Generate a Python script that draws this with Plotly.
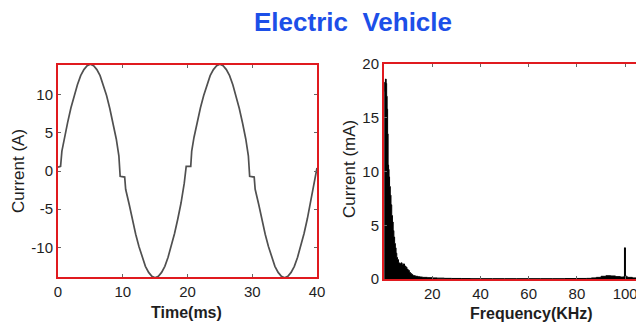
import plotly.graph_objects as go

# ---- Data: time-domain current (A) ----
time_ms = [0, 0.4, 0.6, 1, 1.5, 2, 2.5, 3, 3.5, 4, 4.5, 5, 5.5, 6, 6.5, 7, 7.5, 8, 8.5, 9, 9.4,
           9.6, 10.3, 10.45, 11, 11.5, 12, 12.5, 13, 13.5, 14, 14.5, 15, 15.5, 16, 16.5, 17, 17.5,
           18, 18.5, 19, 19.5, 19.8, 20.5, 20.65, 21, 21.5, 22, 22.5, 23, 23.5, 24, 24.5, 25,
           25.5, 26, 26.5, 27, 27.5, 28, 28.5, 29, 29.4, 29.6, 30.3, 30.45, 31, 31.5, 32, 32.5,
           33, 33.5, 34, 34.5, 35, 35.5, 36, 36.5, 37, 37.5, 38, 38.5, 39, 39.5, 40]
current_a = [0.5, 0.6, 2.6, 4.4, 6.4, 8.3, 9.9, 11.3, 12.5, 13.3, 13.8, 14.0, 13.8, 13.3, 12.5,
             11.3, 9.9, 8.2, 6.3, 4.2, 2.0,
             -0.7, -0.8, -2.4, -4.4, -6.4, -8.3, -9.9, -11.3, -12.5, -13.3, -13.8, -14.0, -13.8,
             -13.3, -12.5, -11.3, -9.9,
             -8.2, -6.3, -4.2, -1.6, 0.6, 0.6, 2.6, 4.4, 6.4, 8.3, 9.9, 11.3, 12.5, 13.3, 13.8, 14.0,
             13.8, 13.3, 12.5, 11.3, 9.9, 8.2, 6.3, 4.2, 2.0, -0.7, -0.8, -2.4, -4.4, -6.4, -8.3, -9.9,
             -11.3, -12.5, -13.3, -13.8, -14.0, -13.8, -13.3, -12.5, -11.3, -9.9, -8.2, -6.3, -4.2,
             -1.9, 0.4]

# ---- Data: spectrum current (mA) ----
freq_khz = [0.1, 0.3, 0.6, 0.9, 1.1, 1.3, 1.5, 1.7, 1.9, 2.1, 2.3, 2.6, 2.9, 3.2, 3.5, 3.8, 4.1,
            4.4, 4.7, 5.0, 5.3, 5.6, 6.0, 6.5, 7.0, 7.5, 8.0, 8.5, 9.0, 9.5, 10, 10.5, 11, 11.5,
            12, 13, 14, 15, 16, 18, 20, 22, 25, 28, 32, 36, 40, 45, 50, 55, 60, 65, 70, 75, 80,
            84, 86, 88, 90, 92, 94, 96, 98, 99.3, 99.7, 100.1, 100.4, 101, 103, 105, 108]
current_ma = [17.5, 18.3, 18.6, 18.2, 17.0, 15.8, 13.5, 10.6, 10.2, 9.5, 8.6, 7.8, 6.9, 5.9, 5.3,
              4.5, 3.9, 3.3, 2.9, 2.4, 2.0, 1.8, 1.5, 1.4, 1.5, 1.3, 1.4, 1.2, 1.1, 0.9, 0.8, 0.6,
              0.5, 0.4, 0.3, 0.25, 0.2, 0.18, 0.15, 0.12, 0.1, 0.08, 0.06, 0.05, 0.04, 0.03, 0.03,
              0.03, 0.03, 0.03, 0.03, 0.03, 0.03, 0.04, 0.05,
              0.06, 0.1, 0.15, 0.25, 0.3, 0.28, 0.22, 0.18, 0.2, 2.9, 0.3, 0.2, 0.15, 0.1, 0.1, 0.1]

time_ticks = [0, 10, 20, 30, 40]
amp_ticks = [-10, -5, 0, 5, 10]
amp_labels = ["-10", "-5", "0", "5", "10"]
freq_ticks = [20, 40, 60, 80, 100]
ma_ticks = [0, 5, 10, 15, 20]

# page body has an 8px margin; figure is sized so it ends at the window edge
OFF = 8
W, H = 644 - OFF, 322 - OFF
RED = "#e01a1f"
FONT = "Liberation Sans, Arial, sans-serif"
TXT = "#1e1e1e"

def px(x):
    return (x - OFF) / W

def py(y):
    return 1 - (y - OFF) / H

fig = go.Figure()
fig.add_trace(go.Scatter(x=time_ms, y=current_a, mode="lines",
                         line=dict(color="#505050", width=1.7),
                         xaxis="x", yaxis="y", showlegend=False))
fig.add_trace(go.Scatter(x=freq_khz, y=current_ma, mode="lines",
                         line=dict(color="#000000", width=1, shape="hv"),
                         fill="tozeroy", fillcolor="#000000",
                         xaxis="x2", yaxis="y2", showlegend=False))

axis_common = dict(showgrid=False, zeroline=False, showline=True, linecolor=RED, linewidth=2,
                   ticks="inside", ticklen=3, tickcolor="#666666", automargin=False,
                   tickfont=dict(family=FONT, size=15, color=TXT))

fig.update_layout(
    width=W, height=H,
    margin=dict(l=0, r=0, t=0, b=0, autoexpand=False),
    paper_bgcolor="white", plot_bgcolor="white",
    xaxis=dict(domain=[px(58), px(317)], range=[0, 40], tickvals=time_ticks,
               mirror="ticks", anchor="y", **axis_common),
    yaxis=dict(domain=[py(277), py(65)], range=[-13.9, 13.9], tickvals=amp_ticks,
               ticktext=amp_labels, mirror="ticks", anchor="x", **axis_common),
    xaxis2=dict(domain=[px(384), 1.0], range=[0, 107.8], tickvals=freq_ticks,
                mirror="ticks", anchor="y2", **axis_common),
    yaxis2=dict(domain=[py(279), py(64)], range=[0, 20], tickvals=ma_ticks,
                mirror=False, anchor="x2", **axis_common),
    annotations=[
        dict(text="<b>Electric  Vehicle</b>", x=px(353), y=py(22), xref="paper", yref="paper",
             showarrow=False, xanchor="center", yanchor="middle",
             font=dict(family=FONT, size=26, color="#1c4fe8")),
        dict(text="Current (A)", x=px(18), y=py(171), xref="paper", yref="paper",
             showarrow=False, textangle=-90, xanchor="center", yanchor="middle",
             font=dict(family=FONT, size=17, color=TXT)),
        dict(text="<b>Time(ms)</b>", x=px(186), y=py(312), xref="paper", yref="paper",
             showarrow=False, xanchor="center", yanchor="middle",
             font=dict(family=FONT, size=16, color=TXT)),
        dict(text="Current (mA)", x=px(349), y=py(169), xref="paper", yref="paper",
             showarrow=False, textangle=-90, xanchor="center", yanchor="middle",
             font=dict(family=FONT, size=17, color=TXT)),
        dict(text="<b>Frequency(KHz)</b>", x=px(531), y=py(313), xref="paper", yref="paper",
             showarrow=False, xanchor="center", yanchor="middle",
             font=dict(family=FONT, size=16, color=TXT)),
    ],
)

fig.write_html("out.html")
